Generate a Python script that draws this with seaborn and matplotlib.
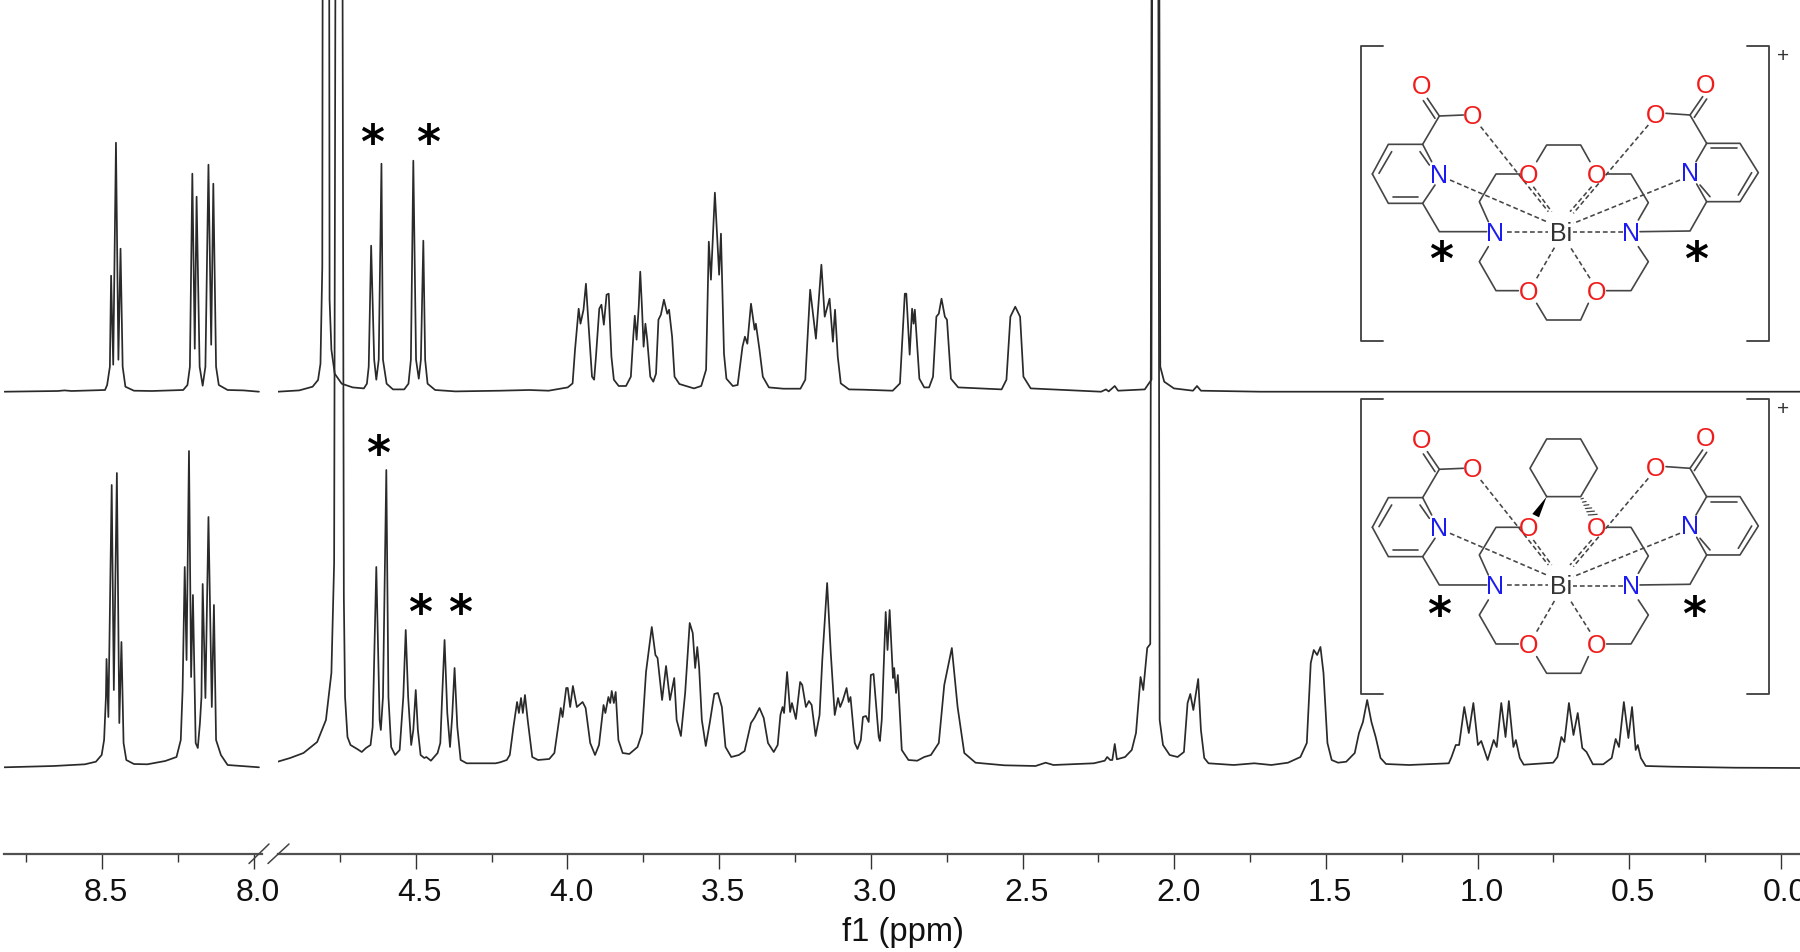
import numpy as np
import matplotlib
matplotlib.use("Agg")
import matplotlib.pyplot as plt
from matplotlib.transforms import ScaledTranslation
import seaborn as sns

# ---------- spectrum data: chemical shift (ppm) and intensity above baseline ----------
top_left_ppm = [8.82,8.645,8.623,8.60,8.490,8.483,8.474,8.470,8.463,8.454,8.446,8.439,8.432,8.423,8.395,8.336,8.233,8.219,8.211,8.203,8.195,8.189,8.179,8.169,8.160,8.150,8.141,8.134,8.125,8.116,8.087,8.035,7.984]
top_left_int = [0,.7,1.3,.7,1.7,6.7,25,116,27,249,32,143,25,5,1,.7,1.7,6.7,25,218,43,195,25,6,25,227,47,208,25,6.7,1.7,1.3,0]

top_right_ppm = [4.955,4.884,4.840,4.822,4.814,4.808,4.805,4.787,4.784,4.778,4.767,4.744,4.708,4.671,4.661,4.655,4.647,4.637,4.630,4.622,4.613,4.608,4.596,4.575,4.538,4.524,4.516,4.508,4.499,4.490,4.483,4.475,4.469,4.461,4.436,4.369,
 4.222,4.126,4.062,3.999,3.983,3.975,3.963,3.957,3.947,3.939,3.930,3.919,3.912,3.906,3.895,3.888,3.880,3.871,3.864,3.855,3.847,3.831,3.807,3.791,3.783,3.778,3.772,3.765,3.760,3.754,3.749,3.743,3.737,3.727,3.717,3.708,3.700,3.692,3.682,3.671,3.665,3.655,3.647,3.631,3.583,3.559,3.543,3.534,3.527,3.514,3.500,3.494,3.484,3.476,3.455,3.439,3.423,3.415,3.407,3.395,3.383,3.379,3.367,3.356,3.336,3.288,3.232,3.216,3.200,3.181,3.163,3.152,3.136,3.125,3.118,3.109,3.099,3.072,3.024,2.928,2.904,2.888,2.883,2.872,2.864,2.859,2.855,2.840,2.824,2.808,2.795,2.784,2.776,2.767,2.756,2.749,2.736,2.712,2.569,2.553,2.540,2.524,2.508,2.497,2.473,2.241,2.225,2.216,2.196,2.185,2.097,2.085,2.075,2.070,2.053,2.046,2.033,2.001,1.938,1.925,1.912,1.717,-0.063]
top_right_int = [0,1.3,5,11.7,28,125,900,900,92,42,18,8,4.3,3.3,8,25,146,32,12,32,228,32,8,2.3,2.3,8,32,231,32,13,32,151,32,8,1.7,.3,
 1,1.7,1,4.3,8.3,42,83,68,82,108,65,15,12,35,83,87,67,97,98,35,12,5.7,5.7,15,55,76,52,85,120,82,45,68,52,15,10,18,72,77,92,78,82,55,15,7.7,3.3,5.7,22,150,112,199,117,158,38,13,5.7,6.7,45,55,48,88,62,68,42,15,4.3,3,3,12,102,53,127,75,93,50,82,35,8.3,2.3,2,1,8.3,98,98,37,83,68,82,13,4.3,4.3,15,75,78,93,75,72,13,4.3,2.3,12,75,85,75,15,3.3,0,2.3,.3,5.7,1,2.3,7.7,12,900,900,25,10,3.3,1,5.7,1,0,0]

bottom_left_ppm = [8.821,8.659,8.556,8.520,8.501,8.493,8.487,8.485,8.479,8.468,8.461,8.451,8.443,8.436,8.429,8.420,8.395,8.351,8.292,8.255,8.241,8.235,8.228,8.222,8.214,8.207,8.201,8.192,8.185,8.178,8.173,8.169,8.160,8.150,8.139,8.132,8.125,8.109,8.087,8.042,7.984]
bottom_left_int = [.7,2,3.7,6.3,13,28,71,109,51,283,78,295,45,126,25,8,4,3.7,7,11,28,78,201,108,317,91,173,25,20,45,71,184,70,251,61,163,28,13,3,2,.7]

bottom_right_ppm = [4.955,4.914,4.870,4.825,4.796,4.778,4.769,4.764,4.742,4.737,4.733,4.725,4.715,4.693,4.678,4.664,4.649,4.642,4.630,4.619,4.615,4.608,4.597,4.590,4.581,4.568,4.553,4.541,4.533,4.525,4.515,4.508,4.500,4.493,4.484,4.472,4.465,4.450,4.428,4.419,4.413,4.405,4.396,4.387,4.380,4.372,4.363,4.352,4.332,4.237,
 4.222,4.200,4.190,4.178,4.166,4.160,4.153,4.147,4.140,4.131,4.116,4.097,4.060,4.043,4.031,4.022,4.016,4.004,3.999,3.991,3.982,3.969,3.950,3.940,3.925,3.909,3.896,3.881,3.875,3.865,3.859,3.854,3.847,3.841,3.832,3.818,3.796,3.769,3.754,3.741,3.722,3.710,3.703,3.688,3.675,3.662,3.648,3.640,3.626,3.612,3.597,3.587,3.579,3.572,3.566,3.557,3.544,3.531,3.516,3.504,3.491,3.479,3.460,3.435,3.416,3.395,3.384,3.367,3.353,3.339,3.320,3.307,3.298,3.291,3.286,3.276,3.266,3.260,3.247,3.233,3.226,3.214,3.204,3.195,3.182,3.169,3.160,3.144,3.132,3.119,3.108,3.101,3.092,3.080,3.073,3.067,3.053,3.044,3.033,3.026,3.016,3.007,3.000,2.991,2.974,2.970,2.964,2.951,2.945,2.938,2.927,2.923,2.917,2.911,2.898,2.876,2.847,2.824,2.802,2.776,2.758,2.733,2.714,2.692,2.655,2.560,2.457,2.424,2.398,2.265,2.229,2.221,2.211,2.204,2.196,2.189,2.162,2.140,2.126,2.111,2.102,2.089,2.079,2.074,2.053,2.048,2.037,2.015,1.989,1.968,1.956,1.947,1.937,1.921,
 1.912,1.901,1.887,1.804,1.736,1.680,1.625,1.584,1.563,1.550,1.540,1.529,1.518,1.508,1.495,1.481,1.460,1.433,1.405,1.391,1.378,1.364,1.350,1.336,1.320,1.302,1.226,1.095,1.086,1.072,1.061,1.044,1.029,1.014,0.999,0.988,0.967,0.947,0.937,0.922,0.908,0.897,0.882,0.874,0.861,0.848,0.813,0.751,0.737,0.724,0.714,0.699,0.684,0.670,0.655,0.641,0.620,0.586,0.558,0.545,0.534,0.518,0.503,0.491,0.479,0.472,0.462,0.446,0.359,0.152,-0.063]
bottom_right_int = [6.3,10,15,26,48,95,205,900,900,171,71,31,23,19,16,20,23,41,201,48,38,71,298,71,21,13,18,71,138,71,23,38,78,38,13,10,11,7.3,15,25,71,128,55,21,51,100,41,8,4.7,4.7,
 5.7,8,13,41,66,55,70,55,73,48,11,8,9,15,41,60,51,80,80,61,82,61,66,60,25,13,23,63,55,71,65,77,65,76,28,15,14,21,35,96,141,113,110,68,102,68,90,48,32,75,145,135,100,121,101,48,22,45,74,75,61,21,11,13,17,45,50,60,50,25,16,23,53,61,55,96,56,65,49,86,83,61,67,63,32,53,108,185,115,53,70,61,68,80,66,71,25,19,28,51,52,46,93,94,31,27,48,156,118,158,90,100,75,93,18,8,7.3,11,13,25,83,120,61,15,5.3,2.7,2,5.3,3,4.7,7.3,11,8,8,24,8.7,11,18,35,91,78,120,124,900,900,48,23,13,11,16,65,74,58,89,
 38,10,4.7,3,4.7,3,5.3,11,25,105,118,113,121,95,25,8,5.3,6.3,15,35,46,68,46,31,10,4,3,4.7,11,23,23,61,35,65,23,27,8,28,21,65,31,67,21,28,10,3.3,4,5.3,11,31,26,65,33,55,20,16,3.7,3.7,10,29,21,66,30,61,18,23,10,2,1.3,.3,0]

major_left = [8.5, 8.0]
minor_left = [8.75, 8.25]
major_right = [4.5, 4.0, 3.5, 3.0, 2.5, 2.0, 1.5, 1.0, 0.5, 0.0]
minor_right = [4.75, 4.25, 3.75, 3.25, 2.75, 2.25, 1.75, 1.25, 0.75, 0.25]
tick_fmt = "{:.1f}"
x_label = "f1 (ppm)"

# ---------- layout ----------
W, H = 1800, 952
AXIS_Y = 853.5
BASE_TOP = AXIS_Y - 391.7
BASE_BOTTOM = AXIS_Y - 768.0
TRACE = "#2a2a2a"
AXC = "#505050"

sns.set_theme(style="white")
plt.rcParams["font.family"] = ["Liberation Sans", "DejaVu Sans"]

fig = plt.figure(figsize=(W / 100, H / 100), dpi=100, facecolor="white")

def make_axes(x0, x1, lo, hi):
    ax = fig.add_axes([x0 / W, (H - AXIS_Y) / H, (x1 - x0) / W, AXIS_Y / H])
    ax.set_xlim(lo, hi)
    ax.set_ylim(0, AXIS_Y)
    ax.patch.set_alpha(0)
    for s in ("top", "left", "right"):
        ax.spines[s].set_visible(False)
    ax.spines["bottom"].set_color(AXC)
    ax.spines["bottom"].set_linewidth(1.6)
    ax.set_yticks([])
    return ax

ax_l = make_axes(4, 262, 8.822, 7.974)
ax_r = make_axes(278, 1800, 4.954, -0.0626)

def trace(ax, ppm, inten, base):
    sns.lineplot(x=np.array(ppm), y=np.array(inten) + base, ax=ax, sort=False,
                 estimator=None, color=TRACE, linewidth=1.25)

trace(ax_l, top_left_ppm, top_left_int, BASE_TOP)
trace(ax_l, bottom_left_ppm, bottom_left_int, BASE_BOTTOM)
trace(ax_r, top_right_ppm, top_right_int, BASE_TOP)
trace(ax_r, bottom_right_ppm, bottom_right_int, BASE_BOTTOM)

for ax, maj, mnr in ((ax_l, major_left, minor_left), (ax_r, major_right, minor_right)):
    ax.set_xticks(maj)
    ax.set_xticklabels([tick_fmt.format(v) for v in maj])
    ax.set_xticks(mnr, minor=True)
    ax.tick_params(axis="x", which="major", length=10.8, width=1.0, color="#333333",
                   labelsize=23, pad=6.5, labelcolor="#111111", bottom=True)
    ax.tick_params(axis="x", which="minor", length=5.6, width=1.0, color="#333333", bottom=True)
    for lab in ax.get_xticklabels():
        lab.set_transform(lab.get_transform() + ScaledTranslation(4 / 100, 0, fig.dpi_scale_trans))
    ax.set_xlabel("")

ax_r.set_xlabel(x_label, fontsize=23.5, color="#111111", x=(903 - 278) / (1800 - 278), labelpad=6.5)

# ---------- overlay: axis break, asterisks, structures (pixel coordinates) ----------
ov = fig.add_axes([0, 0, 1, 1])
ov.set_xlim(0, W)
ov.set_ylim(H, 0)
ov.axis("off")
ov.patch.set_alpha(0)

for (x0, y0, x1, y1) in ((249, 863.5, 269, 844), (268, 863.5, 289, 844)):
    ov.plot([x0, x1], [y0, y1], color="#444444", lw=1.1)

def star(x, y, size=33):
    ov.text(x, y + 0.50 * size * 100 / 72, "*", fontsize=size, family="DejaVu Sans",
            ha="center", va="baseline", color="black", fontweight="bold")

for p in ((372, 135), (428, 135), (378, 445.7), (420, 605), (460, 605)):
    star(*p)

LINE = "#454545"
RED = "#f01c1c"
BLUE = "#1c1cf0"

solid_lines = [
    [(97,432),(145,343),(248,343),(275,395)],
    [(285,465),(248,520),(145,520),(97,432)],
    [(155,365),(117,430)], [(160,500),(235,500)], [(240,365),(268,405)],
    [(1100,340),(1200,340),(1255,428),(1200,515),(1100,515),(1070,462)],
    [(1100,340),(1068,395)],
    [(1112,355),(1192,355)], [(1235,428),(1195,495)], [(1080,465),(1110,500)],
    [(248,343),(298,258),(370,255)], [(298,258),(262,205)], [(285,265),(250,212)],
    [(1100,340),(1050,255),(978,250)], [(1050,255),(1088,200)], [(1063,262),(1100,207)],
    [(248,520),(298,605),(440,605)], [(1100,515),(1050,603),(900,605)],
    [(445,575),(418,515),(468,432),(540,432)],
    [(800,432),(873,432),(925,518),(895,570)],
    [(895,650),(925,695),(873,782),(800,782)],
    [(745,820),(722,870),(620,870),(590,820)],
    [(535,782),(468,782),(418,695),(445,650)],
]
bridge = [[(590,395),(620,345),(722,345),(750,395)]]
ring = [[(620,340),(722,340),(772,255),(722,167),(620,167),(570,255),(620,340)]]
dashed_lines = [
    [(422,290),(625,545)], [(925,285),(700,550)],
    [(330,450),(620,575)], [(1020,450),(700,580)],
    [(580,470),(635,545)], [(755,470),(690,545)],
    [(500,605),(625,605)], [(850,607),(700,607)],
    [(590,745),(645,650)], [(750,745),(690,650)],
]
bracket_lines = [
    [(128,48),(63,48),(63,932),(128,932)],
    [(1222,48),(1287,48),(1287,932),(1222,932)],
]
atoms = [
    ("O",245,165,RED),("O",398,253,RED),("O",1098,160,RED),("O",947,250,RED),
    ("O",567,430,RED),("O",770,430,RED),("O",567,780,RED),("O",770,780,RED),
    ("N",297,430,BLUE),("N",1050,425,BLUE),("N",465,605,BLUE),("N",873,605,BLUE),
    ("Bi",662,605,"#333333"),
]

def structure(oy, cyclo):
    X = lambda p: 1340 + p / 3
    Y = lambda p: oy + p / 3
    def draw(seg, **kw):
        ov.plot([X(a) for a, _ in seg], [Y(b) for _, b in seg], solid_capstyle="round", **kw)
    for seg in solid_lines + (ring if cyclo else bridge):
        draw(seg, color=LINE, lw=1.2)
    for seg in bracket_lines:
        draw(seg, color=LINE, lw=1.35)
    for seg in dashed_lines:
        draw(seg, color=LINE, lw=1.15, ls=(0, (3.0, 1.8)))
    if cyclo:
        ov.fill([X(620), X(577), X(597)], [Y(340), Y(392), Y(402)], color="black", lw=0)
        for t in np.linspace(0.12, 0.95, 6):
            cx, cy = 722 + t * 38, 340 + t * 58
            hw = 2 + 12 * t
            ov.plot([X(cx - hw), X(cx + hw)], [Y(cy), Y(cy - 2)], color=LINE, lw=0.9)
    for s, x, y, c in atoms:
        ov.text(X(x), Y(y), s, color=c, fontsize=18, ha="center", va="center_baseline")
    ov.text(X(1328), Y(72), "+", color="#333333", fontsize=15, ha="center", va="center_baseline")

structure(30, False)
structure(383.3, True)
for p in ((1441, 251.7), (1696, 251.7), (1439, 606.7), (1694.3, 606.7)):
    star(*p)

fig.savefig("out.png", dpi=100, facecolor="white")
